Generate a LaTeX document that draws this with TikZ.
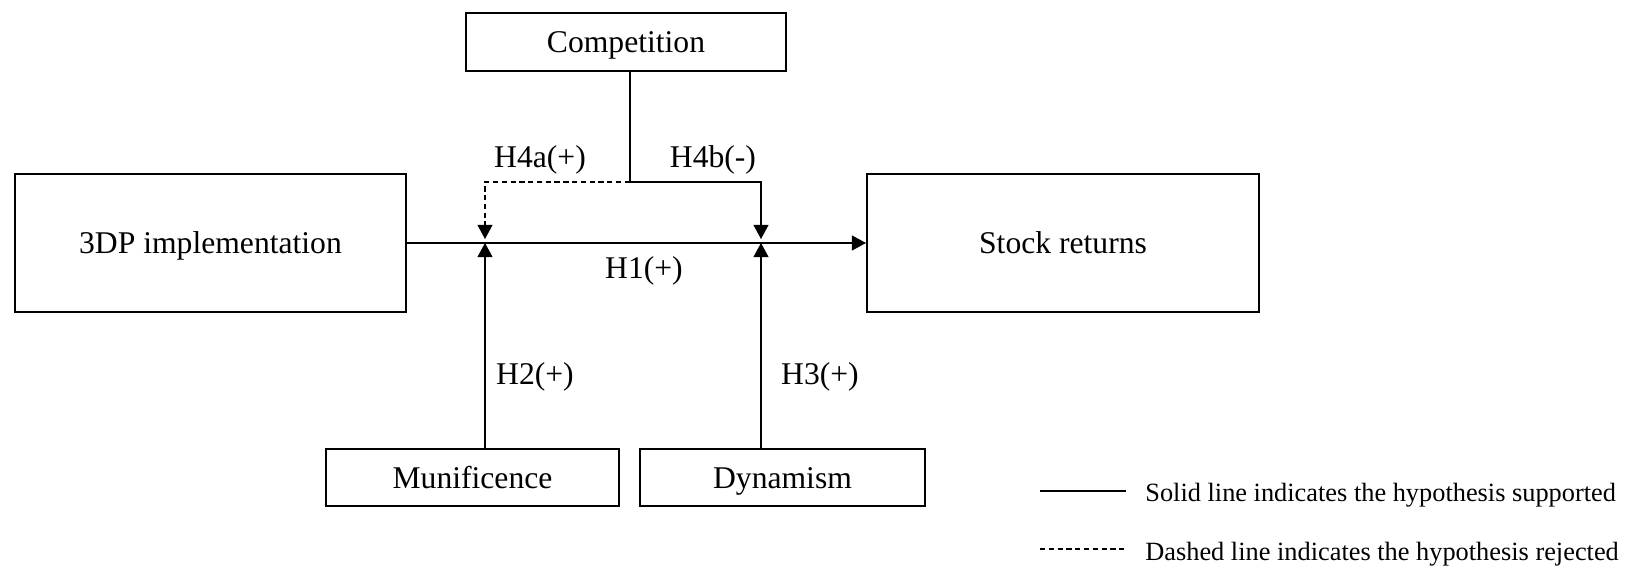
\documentclass[tikz,border=0pt]{standalone}
\usepackage{fontspec}
\setmainfont{Liberation Serif}
\usepackage{tikz}
\usetikzlibrary{positioning}
\usetikzlibrary{arrows.meta, calc}
\tikzstyle{arrow} = [-{Triangle[length=8pt,width=8.5pt]}]

\begin{document}
\begin{tikzpicture}[
    x = 0.02cm, y = -0.02cm,
    every node/.style = {font = \fontsize{18}{20}\selectfont},
    box/.style = {draw, line width = 1.2pt, inner sep = 0pt, text height = 12.4pt, text depth = 0pt},
    link/.style = {line width = 0.6pt},
    rejected/.style = {dash pattern = on 3pt off 2pt},
    legendtext/.style = {font = \fontsize{15}{17}\selectfont, anchor = west, inner sep = 0pt}
  ]
  \useasboundingbox (0,0) rectangle (1640,581);

  % Boxes
  \node[box, minimum width = 7.82cm, minimum height = 2.76cm] (Impl) at (210.5,243) {3DP implementation};
  \node[box, minimum width = 7.84cm, minimum height = 2.76cm] (Stock) at (1063,243) {Stock returns};
  \node[box, minimum width = 6.4cm, minimum height = 1.16cm] (Comp) at (626,42) {Competition};
  \node[box, minimum width = 5.86cm, minimum height = 1.14cm] (Munif) at (472.5,477.5) {Munificence};
  \node[box, minimum width = 5.7cm, minimum height = 1.14cm] (Dyn) at (782.5,477.5) {Dynamism};

  % Junctions
  \coordinate (J1) at (485,243);
  \coordinate (J2) at (761,243);
  \coordinate (J1up) at (485,239);
  \coordinate (J2up) at (761,239);
  \coordinate (Top) at (630,182);
  \coordinate (TopL) at (485,182);
  \coordinate (TopR) at (761,182);

  % Connectors
  \draw[link, arrow] (Impl.east) -- (Stock.west);
  \draw[link] (Comp.south -| Top) -- (Top);
  \draw[link, rejected, arrow] (Top) -- (TopL) -- (J1up);
  \draw[link, arrow] (Top) -- (TopR) -- (J2up);
  \draw[link, arrow] (Munif.north -| J1) -- (J1);
  \draw[link, arrow] (Dyn.north -| J2) -- (J2);

  % Labels
  \node (H4a) at (540,160) {H4a(+)};
  \node (H4b) at (713,160) {H4b(-)};
  \node (H1) at (644,271) {H1(+)};
  \node (H2) at (535,377) {H2(+)};
  \node (H3) at (820,377) {H3(+)};

  % Legend
  \coordinate (SolidA) at (1040,491);
  \coordinate (SolidB) at (1126,491);
  \coordinate (DashA) at (1040,549);
  \coordinate (DashB) at (1126,549);
  \draw[link] (SolidA) -- (SolidB);
  \draw[link, rejected] (DashA) -- (DashB);
  \node[legendtext] (SolidTxt) at (1145,495) {Solid line indicates the hypothesis supported};
  \node[legendtext] (DashTxt) at (1145,554) {Dashed line indicates the hypothesis rejected};
\end{tikzpicture}
\end{document}
